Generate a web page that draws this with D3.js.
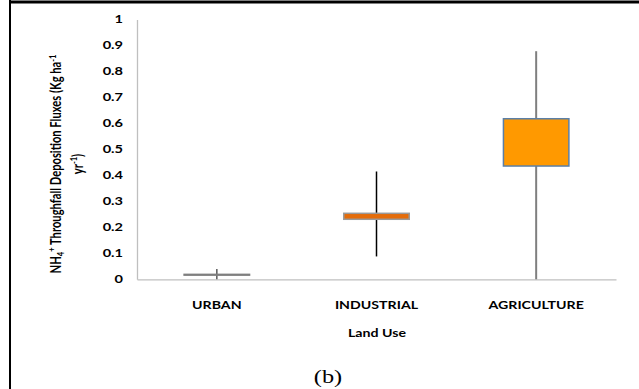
<!DOCTYPE html>
<html>
<head>
<meta charset="utf-8">
<script src="https://cdn.jsdelivr.net/npm/d3@7"></script>
<style>
  html, body { margin: 0; padding: 0; background: #fff; }
  svg { display: block; }
</style>
</head>
<body>
<svg id="chart" width="639" height="389" font-family="Lato, 'Open Sans', sans-serif"></svg>
<script>
// Land use categories and their box-plot statistics (NH4+ throughfall fluxes)
const categories = ["URBAN", "INDUSTRIAL", "AGRICULTURE"];
const minValues = [0, 0.088, 0];
const q1Values = [0.016, 0.231, 0.436];
const q3Values = [0.019, 0.254, 0.618];
const maxValues = [0.04, 0.415, 0.878];
const yTicks = [0, 0.1, 0.2, 0.3, 0.4, 0.5, 0.6, 0.7, 0.8, 0.9, 1];

// per-box styling
const boxFill = ["#7f7f7f", "#e46c0a", "#ff9900"];
const boxStroke = ["#7f7f7f", "#9a9a9a", "#5b7fa6"];
const whiskerColor = ["#595959", "#000000", "#7f7f7f"];
const whiskerWidth = [1.5, 1.5, 2];

const stretch = 1.35; // glyphs are drawn horizontally widened

const svg = d3.select("#chart");

// outer frame (top and left rules)
svg.append("line").attr("x1", 9).attr("x2", 639).attr("y1", 2).attr("y2", 2)
  .attr("stroke", "#000").attr("stroke-width", 3);
svg.append("line").attr("x1", 10).attr("x2", 10).attr("y1", 0).attr("y2", 389)
  .attr("stroke", "#000").attr("stroke-width", 2);

const plot = { left: 137, right: 616, top: 19.5, bottom: 279.3 };

const x = d3.scaleBand().domain(categories).range([plot.left, plot.right]);
const y = d3.scaleLinear().domain([0, 1]).range([plot.bottom, plot.top]);

// y axis
const yAxis = svg.append("g")
  .attr("transform", `translate(${plot.left},0)`)
  .call(d3.axisLeft(y).tickValues(yTicks).tickSize(0).tickPadding(14)
    .tickFormat(d => d3.format("")(+d.toFixed(1))));
yAxis.select(".domain").attr("stroke", "#bfbfbf").attr("stroke-width", 1.3);
yAxis.selectAll(".tick text")
  .attr("fill", "#000").attr("font-size", 10.8).attr("font-weight", "bold")
  .attr("font-family", "Lato, sans-serif")
  .each(function () {
    const t = d3.select(this);
    const tx = +t.attr("x");
    t.attr("x", 0).attr("transform", `translate(${tx},0) scale(${stretch},1)`);
  });

// x axis
const xAxis = svg.append("g")
  .attr("transform", `translate(0,${plot.bottom})`)
  .call(d3.axisBottom(x).tickSize(0).tickPadding(0));
xAxis.select(".domain").attr("stroke", "#bfbfbf").attr("stroke-width", 1.3);
xAxis.selectAll(".tick text")
  .attr("fill", "#000").attr("font-size", 10.5).attr("font-weight", "bold")
  .attr("font-family", "Lato, sans-serif")
  .attr("y", 0).attr("dy", 0)
  .attr("transform", `translate(0,30) scale(${stretch},1)`);

// boxes
const boxW = x.bandwidth() * 0.41;
const boxes = svg.append("g").selectAll("g").data(categories).join("g");

boxes.append("line")
  .attr("x1", d => x(d) + x.bandwidth() / 2)
  .attr("x2", d => x(d) + x.bandwidth() / 2)
  .attr("y1", (d, i) => y(maxValues[i]))
  .attr("y2", (d, i) => y(minValues[i]))
  .attr("stroke", (d, i) => whiskerColor[i])
  .attr("stroke-width", (d, i) => whiskerWidth[i]);

boxes.append("rect")
  .attr("x", d => x(d) + x.bandwidth() / 2 - boxW / 2)
  .attr("width", boxW)
  .attr("y", (d, i) => y(q3Values[i]))
  .attr("height", (d, i) => y(q1Values[i]) - y(q3Values[i]))
  .attr("fill", (d, i) => boxFill[i])
  .attr("stroke", (d, i) => boxStroke[i])
  .attr("stroke-width", 1.5);

// axis titles
svg.append("text")
  .attr("transform", `translate(377,337) scale(${stretch},1)`)
  .attr("text-anchor", "middle")
  .attr("font-size", 10.5).attr("font-weight", "bold")
  .text("Land Use");

const yTitle = svg.append("g")
  .attr("transform", `translate(61,164) rotate(-90) scale(1,${stretch})`);
const l1 = yTitle.append("text")
  .attr("text-anchor", "middle").attr("y", 0)
  .attr("font-size", 11.2).attr("font-weight", "bold");
l1.append("tspan").text("NH");
l1.append("tspan").attr("font-size", 7.5).attr("dy", 2.5).text("4");
l1.append("tspan").attr("font-size", 7.5).attr("dy", -7).text("+");
l1.append("tspan").attr("dy", 4.5).text(" Throughfall Deposition Fluxes (Kg ha");
l1.append("tspan").attr("font-size", 7.5).attr("dy", -4).text("-1");

const l2 = yTitle.append("text")
  .attr("text-anchor", "middle").attr("y", 16)
  .attr("font-size", 11.2).attr("font-weight", "bold");
l2.append("tspan").text("yr");
l2.append("tspan").attr("font-size", 7.5).attr("dy", -4).text("-1");
l2.append("tspan").attr("dy", 4).text(")");

// panel label
svg.append("text")
  .attr("transform", `translate(328,383) scale(${stretch},1)`)
  .attr("text-anchor", "middle")
  .attr("font-family", "'Liberation Serif', 'Times New Roman', serif")
  .attr("font-weight", "normal")
  .attr("font-size", 18)
  .text("(b)");
</script>
</body>
</html>
